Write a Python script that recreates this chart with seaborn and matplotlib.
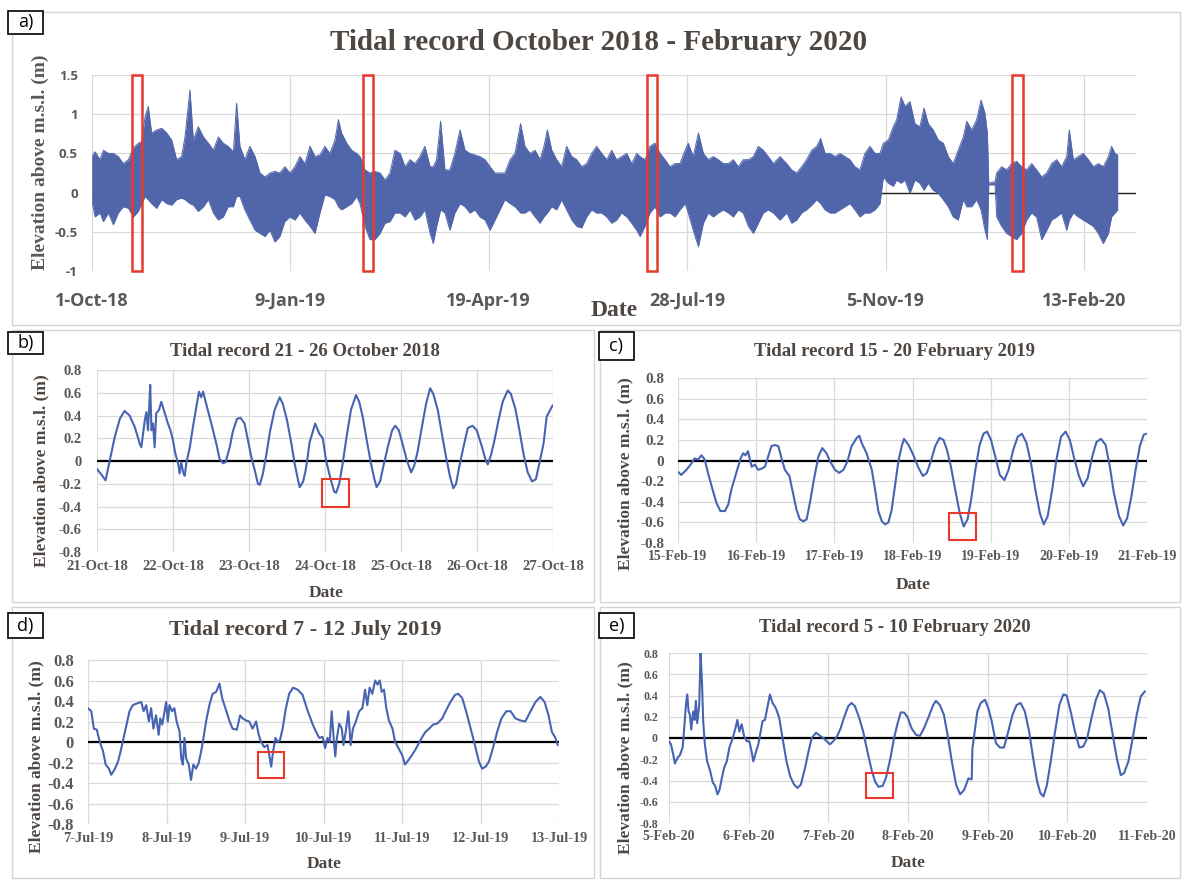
import matplotlib
matplotlib.use("Agg")
import matplotlib.pyplot as plt
import matplotlib.dates as mdates
from matplotlib.patches import Rectangle
import numpy as np
import pandas as pd
import seaborn as sns

# ---------------- DATA ----------------
# Panel a: envelope (day offset from 1-Oct-2018, high, low)
a_start = "2018-10-01"
a_day = [0, 1.7, 4.2, 5.9, 8.4, 10.9, 13.4, 15.9, 18.5, 21.0, 23.5, 25.2, 26.9, 28.5, 30.2, 32.7, 35.3, 37.8,
         40.3, 42.8, 45.3, 47.0, 49.5, 51.2, 53.7, 56.3, 58.8, 61.3, 63.8, 66.3, 68.8, 71.4, 73.0, 74.7, 77.2,
         79.7, 82.3, 84.8, 87.3, 89.8, 92.3, 94.8, 97.3, 99.9, 102.4, 104.9, 107.4, 110.0, 112.5, 115.0, 117.5,
         120.0, 122.6, 124.3, 125.9, 128.5, 131.0, 133.5, 135.2, 137.7, 140.2, 142.7, 145.3, 147.8, 150.3, 152.8,
         155.4, 157.9, 160.4, 162.9, 165.4, 167.9, 170.5, 172.1, 173.8, 175.8, 178.0, 180.5, 183.0, 185.6, 188.1,
         190.6, 193.1, 195.6, 198.2, 200.7, 203.2, 205.7, 208.2, 210.8, 213.3, 216.1, 218.3, 220.8, 223.4, 225.9,
         227.9, 229.6, 231.8, 234.3, 236.8, 239.3, 241.9, 244.4, 246.9, 249.4, 251.9, 254.4, 257.0, 259.5, 262.0,
         264.5, 267.0, 269.6, 272.1, 274.6, 276.3, 278.8, 281.3, 283.8, 286.4, 288.9, 291.4, 293.9, 296.4, 299.0,
         300.6, 303.1, 305.7, 308.2, 310.7, 313.2, 315.7, 318.3, 320.8, 323.3, 325.8, 328.3, 330.9, 333.4, 335.9,
         338.4, 340.9, 343.5, 346.8, 350.2, 352.7, 355.2, 357.7, 360.2, 362.8, 365.3, 367.3, 369.5, 372.0, 374.5,
         377.0, 379.5, 382.1, 384.6, 387.1, 389.6, 392.1, 394.7, 397.2, 398.9, 401.4, 403.9, 405.6, 407.8, 409.8,
         412.3, 414.8, 417.3, 419.4, 421.5, 424.0, 426.6, 429.1, 431.6, 434.1, 436.6, 439.2, 440.9, 443.4, 445.9,
         448.1, 450.1, 451.3, 452.0, 455.2, 456.0, 458.5, 461.0, 463.5, 466.0, 468.6, 471.1, 473.6, 476.1, 478.7,
         481.2, 483.7, 486.2, 488.7, 491.3, 492.6, 494.6, 497.1, 499.6, 502.2, 504.7, 507.2, 509.7, 512.3, 513.9,
         515.6, 517.0]
a_high = [0.46, 0.52, 0.42, 0.54, 0.50, 0.50, 0.46, 0.37, 0.42, 0.57, 0.63, 0.65, 0.97, 1.10, 0.76, 0.80, 0.82, 0.76,
          0.67, 0.42, 0.46, 0.71, 1.31, 0.67, 0.84, 0.71, 0.63, 0.54, 0.71, 0.63, 0.59, 0.52, 1.14, 0.59, 0.42,
          0.59, 0.46, 0.25, 0.20, 0.25, 0.27, 0.25, 0.33, 0.25, 0.33, 0.46, 0.37, 0.59, 0.46, 0.48, 0.59,
          0.50, 0.67, 0.93, 0.76, 0.63, 0.54, 0.50, 0.46, 0.29, 0.25, 0.27, 0.25, 0.16, 0.25, 0.54,
          0.50, 0.33, 0.42, 0.37, 0.46, 0.59, 0.33, 0.33, 0.42, 0.91, 0.29, 0.29, 0.50, 0.80, 0.54,
          0.50, 0.48, 0.46, 0.42, 0.33, 0.25, 0.25, 0.25, 0.42, 0.50, 0.88, 0.59, 0.50, 0.54, 0.42,
          0.59, 0.80, 0.54, 0.42, 0.33, 0.59, 0.46, 0.42, 0.33, 0.37, 0.50, 0.59, 0.50, 0.42, 0.54,
          0.42, 0.46, 0.50, 0.37, 0.50, 0.46, 0.42, 0.59, 0.63, 0.50, 0.42, 0.33, 0.37, 0.37, 0.54,
          0.63, 0.46, 0.76, 0.50, 0.42, 0.46, 0.42, 0.37, 0.37, 0.42, 0.33, 0.42, 0.42, 0.46, 0.59,
          0.54, 0.46, 0.37, 0.46, 0.37, 0.29, 0.25, 0.33, 0.42, 0.54, 0.59, 0.69, 0.50, 0.50, 0.46,
          0.50, 0.46, 0.42, 0.33, 0.29, 0.50, 0.59, 0.50, 0.50, 0.63, 0.67, 0.84, 0.93, 1.22, 1.10,
          1.16, 0.88, 0.84, 1.08, 0.88, 0.80, 0.67, 0.63, 0.46, 0.37, 0.54, 0.71, 0.91, 0.80, 0.93,
          1.18, 1.01, 0.76, 0.12, 0.14, 0.25, 0.33, 0.29, 0.37, 0.40, 0.33, 0.29, 0.37, 0.29, 0.20,
          0.25, 0.37, 0.42, 0.33, 0.46, 0.80, 0.42, 0.46, 0.50, 0.42, 0.33, 0.37, 0.33, 0.46, 0.59,
          0.50, 0.48]
a_low = [-0.09, -0.31, -0.26, -0.37, -0.26, -0.41, -0.26, -0.18, -0.20, -0.31, -0.24, -0.14, -0.05, -0.09, -0.14,
         -0.20, -0.09, -0.14, -0.16, -0.09, -0.07, -0.09, -0.14, -0.16, -0.24, -0.18, -0.09, -0.26, -0.35, -0.31,
         -0.18, -0.18, -0.05, -0.05, -0.22, -0.35, -0.48, -0.52, -0.56, -0.48, -0.63, -0.56, -0.37, -0.31, -0.35,
         -0.26, -0.35, -0.43, -0.52, -0.26, -0.03, -0.05, -0.09, -0.18, -0.22, -0.18, -0.14, -0.05, -0.14, -0.43,
         -0.60, -0.60, -0.52, -0.39, -0.37, -0.26, -0.26, -0.31, -0.22, -0.35, -0.31, -0.22, -0.52, -0.65, -0.43,
         -0.22, -0.26, -0.48, -0.26, -0.14, -0.18, -0.26, -0.22, -0.31, -0.35, -0.48, -0.35, -0.22, -0.09, -0.14,
         -0.18, -0.26, -0.26, -0.22, -0.31, -0.39, -0.31, -0.26, -0.18, -0.22, -0.09, -0.22, -0.35, -0.43, -0.45,
         -0.31, -0.22, -0.26, -0.26, -0.31, -0.39, -0.35, -0.26, -0.31, -0.39, -0.48, -0.56, -0.43, -0.26, -0.18,
         -0.31, -0.26, -0.26, -0.31, -0.22, -0.14, -0.26, -0.48, -0.69, -0.39, -0.26, -0.31, -0.26, -0.22, -0.26,
         -0.31, -0.22, -0.26, -0.43, -0.52, -0.39, -0.26, -0.22, -0.26, -0.35, -0.26, -0.39, -0.35, -0.26, -0.22,
         -0.16, -0.09, -0.14, -0.22, -0.26, -0.26, -0.22, -0.18, -0.14, -0.22, -0.31, -0.26, -0.26, -0.22, -0.14,
         0.20, 0.12, 0.08, 0.16, 0.12, 0.16, -0.01, 0.16, 0.12, 0.03, 0.12, 0.03, -0.01, -0.09, -0.18,
         -0.31, -0.35, -0.09, -0.18, -0.18, -0.09, -0.22, -0.48, -0.60, 0.10, 0.10, -0.31, -0.43, -0.52, -0.56,
         -0.60, -0.52, -0.35, -0.26, -0.31, -0.60, -0.48, -0.35, -0.31, -0.26, -0.48, -0.35, -0.26, -0.31, -0.35,
         -0.39, -0.43, -0.52, -0.65, -0.52, -0.31, -0.26, -0.22]
a_ticks = ["2018-10-01", "2019-01-09", "2019-04-19", "2019-07-28", "2019-11-05", "2020-02-13"]
a_yticks = [-1, -0.5, 0, 0.5, 1, 1.5]
a_boxes_day = [(20.3, 25.3), (136.7, 141.7), (279.8, 284.9), (463.7, 469.2)]

# Panel b: 21-26 Oct 2018 (hours from start, elevation m)
b_start = "2018-10-21"
b_hours = [0, 1.4, 2.7, 4.0, 5.6, 7.2, 8.7, 10.3, 11.9, 12.9, 13.5, 14.0, 15.1, 15.6, 16.1, 16.4, 16.8, 17.2,
           17.7, 18.2, 18.7, 19.6, 20.3, 21.4, 22.4, 23.2, 24.0, 24.7, 25.6, 26.1, 26.6, 27.2, 27.7, 28.2, 29.3,
           30.3, 31.4, 32.2, 32.9, 33.5, 34.5, 36.1, 37.7, 38.7, 39.8, 40.6, 41.9, 42.9, 44.2, 45.3, 46.6, 47.7,
           48.7, 49.8, 50.8, 51.4, 52.4, 53.5, 54.7, 56.1, 57.7, 58.7, 60.0, 61.4, 62.4, 63.5, 64.0, 65.1, 65.9,
           66.6, 67.1, 68.9, 70.2, 71.3, 72.3, 73.6, 74.9, 75.5, 76.5, 77.6, 78.8, 80.2, 81.8, 82.8, 83.9, 85.2,
           86.5, 87.6, 88.3, 89.4, 90.4, 91.8, 93.2, 94.2, 95.3, 96.5, 97.8, 99.2, 100.2, 101.3, 102.6, 103.9,
           105.2, 106.2, 107.6, 108.9, 110.2, 111.5, 112.5, 113.4, 114.4, 115.7, 117.1, 118.6, 119.9, 121.3,
           122.6, 123.4, 124.4, 125.5, 126.8, 128.1, 129.7, 130.7, 132.1, 133.4, 134.7, 136.0, 137.4, 138.6,
           139.7, 141.0, 142.0, 143.9]
b_vals = [-0.07, -0.12, -0.17, 0.00, 0.21, 0.37, 0.44, 0.40, 0.30, 0.21, 0.15, 0.12, 0.36, 0.43, 0.27, 0.42, 0.67,
          0.27, 0.33, 0.12, 0.42, 0.45, 0.52, 0.42, 0.33, 0.27, 0.18, 0.07, -0.02, -0.11, -0.01, -0.10, -0.13,
          -0.02, 0.12, 0.30, 0.48, 0.61, 0.56, 0.61, 0.50, 0.33, 0.15, 0.02, -0.02, -0.01, 0.12, 0.26, 0.37, 0.38,
          0.33, 0.18, 0.04, -0.08, -0.20, -0.21, -0.11, 0.06, 0.27, 0.45, 0.56, 0.50, 0.36, 0.15, -0.02, -0.17,
          -0.23, -0.18, -0.08, 0.05, 0.16, 0.33, 0.24, 0.20, 0.01, -0.14, -0.27, -0.28, -0.20, -0.02, 0.21, 0.45,
          0.58, 0.52, 0.39, 0.18, -0.02, -0.16, -0.23, -0.18, -0.05, 0.12, 0.27, 0.31, 0.27, 0.15, 0.01, -0.10,
          -0.04, 0.09, 0.30, 0.50, 0.64, 0.59, 0.45, 0.24, 0.04, -0.14, -0.24, -0.20, -0.05, 0.12, 0.29, 0.31,
          0.27, 0.15, 0.02, -0.03, 0.05, 0.18, 0.36, 0.52, 0.62, 0.59, 0.46, 0.27, 0.06, -0.10, -0.18, -0.16,
          -0.02, 0.15, 0.39, 0.49]
b_box = (71.0, 79.6, -0.40, -0.16)

# Panel c: 15-20 Feb 2019
c_start = "2019-02-15"
c_hours = [0, 1.0, 2.6, 4.1, 5.1, 6.2, 7.2, 8.2, 9.2, 10.6, 11.8, 13.0, 14.4, 15.4, 16.4, 17.9, 19.2, 20.0, 20.7,
           21.5, 22.6, 23.6, 24.6, 25.6, 26.7, 27.7, 28.7, 29.7, 30.8, 31.8, 32.8, 34.2, 35.4, 36.4, 37.4, 38.5,
           39.5, 40.5, 41.7, 43.1, 44.3, 45.6, 46.7, 48.2, 49.5, 50.8, 52.0, 53.3, 54.9, 55.7, 56.4, 57.9, 59.5,
           60.5, 61.5, 62.6, 63.6, 64.6, 65.6, 66.6, 67.7, 68.7, 69.4, 70.8, 72.3, 73.8, 75.2, 76.4, 77.6, 79.0,
           80.3, 81.5, 82.6, 83.8, 85.1, 86.5, 87.7, 88.9, 90.0, 91.3, 92.6, 93.8, 94.9, 96.1, 97.4, 98.8, 100.2,
           101.5, 102.9, 104.3, 105.6, 107.0, 108.4, 109.7, 111.1, 112.3, 113.5, 114.9, 116.2, 117.6, 119.0,
           120.3, 121.5, 123.1, 124.4, 125.8, 127.2, 128.5, 129.9, 131.3, 132.6, 133.8, 135.4, 136.7, 137.9,
           139.2, 140.5, 141.8, 143.0, 143.9]
c_vals = [-0.11, -0.14, -0.09, -0.03, 0.02, 0.01, 0.05, 0.01, -0.12, -0.28, -0.41, -0.49, -0.49, -0.43, -0.28, -0.12,
          0.02, 0.07, 0.05, 0.09, -0.06, -0.04, -0.09, -0.08, -0.06, 0.04, 0.14, 0.15, 0.14, 0.02, -0.09, -0.15,
          -0.33, -0.48, -0.57, -0.59, -0.57, -0.41, -0.19, 0.04, 0.12, 0.07, -0.01, -0.09, -0.12, -0.09, -0.01,
          0.14, 0.22, 0.24, 0.17, 0.07, -0.09, -0.28, -0.49, -0.59, -0.62, -0.60, -0.48, -0.25, 0.00, 0.14, 0.21,
          0.15, 0.05, -0.07, -0.15, -0.12, -0.01, 0.14, 0.22, 0.20, 0.10, -0.06, -0.28, -0.51, -0.64, -0.57, -0.38,
          -0.09, 0.15, 0.26, 0.28, 0.20, 0.04, -0.14, -0.19, -0.09, 0.10, 0.23, 0.26, 0.17, -0.03, -0.28, -0.51,
          -0.62, -0.54, -0.28, 0.01, 0.23, 0.28, 0.20, 0.04, -0.15, -0.25, -0.17, 0.04, 0.18, 0.21, 0.15, -0.06,
          -0.31, -0.54, -0.63, -0.56, -0.35, -0.09, 0.14, 0.25, 0.26]
c_box = (83.2, 91.4, -0.77, -0.51)

# Panel d: 7-12 July 2019
d_start = "2019-07-07"
d_hours = [0, 1.0, 1.8, 2.7, 3.6, 4.6, 5.4, 6.4, 7.1, 8.1, 9.2, 10.2, 11.5, 12.7, 13.7, 15.3, 16.3, 17.0, 17.8,
           18.6, 19.3, 20.0, 20.8, 21.6, 22.1, 22.7, 23.4, 23.9, 24.4, 24.9, 25.7, 26.4, 27.1, 28.0, 28.5, 29.0,
           29.5, 30.0, 30.8, 31.5, 32.2, 33.0, 33.8, 34.6, 35.3, 36.1, 37.1, 38.1, 39.2, 40.2, 41.0, 42.0, 43.2,
           44.2, 45.5, 46.5, 47.3, 48.3, 49.3, 50.3, 51.4, 52.2, 52.9, 53.9, 54.9, 55.6, 56.0, 56.6, 57.3, 58.0,
           58.7, 59.5, 60.5, 61.5, 62.7, 64.1, 65.6, 67.1, 68.6, 69.7, 70.7, 71.7, 72.5, 73.2, 73.9, 74.5, 75.1,
           75.6, 76.1, 76.8, 77.6, 78.1, 78.8, 79.6, 80.3, 81.0, 81.9, 82.9, 83.9, 84.7, 85.4, 86.1, 86.9, 87.8,
           88.5, 89.2, 89.8, 90.5, 91.2, 92.0, 93.1, 93.9, 94.9, 96.1, 96.9, 97.9, 99.0, 100.0, 101.2, 102.2,
           103.2, 104.3, 105.5, 106.8, 108.3, 109.5, 110.8, 112.2, 113.2, 114.4, 115.6, 117.0, 118.3, 119.5,
           120.5, 121.6, 122.6, 123.8, 125.1, 126.4, 127.9, 129.2, 130.7, 132.2, 133.7, 135.3, 136.8, 138.3,
           139.6, 140.8, 141.8, 142.9, 143.6]
d_vals = [0.33, 0.30, 0.13, 0.12, 0.00, -0.09, -0.22, -0.26, -0.32, -0.27, -0.19, -0.06, 0.13, 0.30, 0.36, 0.38,
          0.39, 0.30, 0.36, 0.20, 0.33, 0.13, 0.26, 0.07, 0.23, 0.17, 0.30, 0.39, 0.20, 0.36, 0.30, 0.33, 0.20,
          0.10, -0.16, -0.22, 0.04, -0.16, -0.22, -0.37, -0.22, -0.26, -0.21, -0.09, 0.04, 0.20, 0.36, 0.47, 0.49,
          0.57, 0.43, 0.33, 0.21, 0.13, 0.12, 0.26, 0.23, 0.21, 0.20, 0.13, 0.20, 0.07, 0.00, -0.05, -0.03, -0.16,
          -0.24, -0.09, 0.04, 0.00, 0.02, 0.13, 0.33, 0.47, 0.53, 0.51, 0.46, 0.31, 0.18, 0.10, 0.04, 0.05, -0.06,
          0.04, 0.00, 0.30, 0.04, -0.14, 0.04, 0.18, 0.13, -0.03, 0.10, 0.30, -0.03, 0.13, 0.20, 0.30, 0.33, 0.51,
          0.36, 0.53, 0.47, 0.60, 0.56, 0.60, 0.49, 0.51, 0.33, 0.21, 0.13, 0.00, -0.06, -0.13, -0.22, -0.18,
          -0.13, -0.08, -0.01, 0.05, 0.10, 0.13, 0.17, 0.18, 0.23, 0.31, 0.39, 0.46, 0.47, 0.43, 0.30, 0.13,
          -0.03, -0.19, -0.26, -0.24, -0.19, -0.06, 0.10, 0.23, 0.30, 0.30, 0.23, 0.21, 0.20, 0.30, 0.39, 0.44,
          0.39, 0.26, 0.10, 0.04, -0.03]
d_box = (52.0, 60.0, -0.35, -0.10)

# Panel e: 5-10 Feb 2020
e_start = "2020-02-05"
e_hours = [0, 0.6, 1.3, 1.8, 2.5, 3.3, 4.1, 4.5, 5.1, 5.5, 5.9, 6.3, 6.7, 7.3, 7.7, 8.1, 8.5, 9.1, 9.5, 9.9,
           10.3, 10.8, 11.5, 12.4, 13.2, 13.9, 14.6, 15.2, 15.9, 16.6, 17.4, 18.2, 19.2, 20.0, 20.6, 21.2, 21.9,
           22.6, 23.4, 24.2, 24.9, 25.4, 26.2, 26.9, 27.6, 28.2, 28.9, 29.6, 30.4, 31.2, 32.2, 33.2, 34.2, 35.4,
           36.5, 37.7, 38.7, 39.7, 41.0, 42.0, 43.0, 44.3, 45.5, 46.5, 47.5, 48.5, 49.5, 50.7, 51.7, 52.7, 54.0,
           55.0, 56.0, 57.3, 58.5, 59.8, 61.1, 62.1, 63.1, 64.4, 65.4, 66.7, 67.8, 68.8, 69.8, 70.8, 71.8, 73.1,
           74.4, 75.6, 76.8, 78.1, 79.6, 80.4, 81.6, 82.8, 84.1, 85.2, 86.5, 87.7, 88.9, 90.2, 91.2, 91.4, 92.2,
           92.9, 93.9, 95.2, 96.2, 97.2, 98.5, 99.7, 100.9, 102.2, 103.5, 104.7, 105.9, 107.2, 108.5, 109.7,
           110.9, 111.9, 112.8, 113.8, 115.0, 116.3, 117.6, 118.8, 119.8, 121.0, 122.3, 123.6, 124.8, 126.0,
           127.3, 128.6, 129.8, 131.0, 132.3, 133.7, 134.9, 136.1, 137.1, 138.4, 139.7, 140.9, 142.1, 143.4]
e_vals = [-0.03, -0.06, -0.16, -0.24, -0.19, -0.16, -0.09, 0.06, 0.31, 0.41, 0.25, 0.22, 0.08, 0.25, 0.17, 0.35,
          0.14, 0.31, 0.80, 0.56, 0.16, -0.06, -0.22, -0.31, -0.42, -0.45, -0.53, -0.49, -0.38, -0.28, -0.22,
          -0.09, 0.00, 0.09, 0.17, 0.06, 0.13, 0.02, -0.03, -0.03, -0.13, -0.22, -0.13, -0.06, 0.06, 0.16, 0.17,
          0.28, 0.41, 0.33, 0.28, 0.19, 0.00, -0.22, -0.36, -0.44, -0.47, -0.44, -0.28, -0.13, 0.00, 0.05, 0.02,
          0.00, -0.03, -0.06, -0.03, 0.02, 0.09, 0.19, 0.30, 0.33, 0.30, 0.19, 0.06, -0.13, -0.31, -0.41, -0.46,
          -0.45, -0.37, -0.19, 0.00, 0.13, 0.24, 0.24, 0.20, 0.09, 0.03, 0.02, 0.09, 0.19, 0.31, 0.35, 0.31, 0.22,
          0.00, -0.22, -0.44, -0.53, -0.49, -0.38, -0.39, -0.10, 0.09, 0.25, 0.33, 0.36, 0.28, 0.16, -0.05, -0.09,
          -0.09, 0.06, 0.22, 0.31, 0.33, 0.25, 0.06, -0.19, -0.41, -0.52, -0.55, -0.45, -0.22, 0.06, 0.31, 0.41,
          0.40, 0.25, 0.06, -0.09, -0.08, 0.00, 0.19, 0.36, 0.45, 0.42, 0.28, 0.03, -0.19, -0.35, -0.33, -0.22,
          0.00, 0.22, 0.39, 0.44]
e_box = (59.3, 67.5, -0.565, -0.33)

small_yticks = [-0.8, -0.6, -0.4, -0.2, 0, 0.2, 0.4, 0.6, 0.8]

# ---------------- STYLE ----------------
sns.set_style("white")
plt.rcParams["font.family"] = ["Liberation Serif", "DejaVu Serif"]

W, H = 1182, 880
BAND = "#5165ab"
LINE = "#4764b3"
RED = "#e8392c"
GRID = "#d9d9d9"
TICK = "#595959"
TITLE = "#4e4641"
FRAME = "#d4d4d4"

fig = plt.figure(figsize=(W / 100, H / 100), dpi=100)
fig.patch.set_facecolor("white")


def axes_px(x0, y0, x1, y1):
    return fig.add_axes([x0 / W, 1 - y1 / H, (x1 - x0) / W, (y1 - y0) / H])


def fig_rect(x0, y0, x1, y1, **kw):
    fig.add_artist(Rectangle((x0 / W, 1 - y1 / H), (x1 - x0) / W, (y1 - y0) / H,
                             transform=fig.transFigure, **kw))


def fig_text(x, y, s, **kw):
    fig.text(x / W, 1 - y / H, s, **kw)


def fmt_date(d):
    return f"{d.day}-{d.strftime('%b-%y')}"


def fmt_num(v):
    if abs(v) < 1e-9:
        return "0"
    return f"{v:g}"


def style_axes(ax):
    for s in ax.spines.values():
        s.set_visible(False)
    ax.grid(True, color=GRID, lw=0.9)
    ax.set_axisbelow(True)
    ax.tick_params(length=0)
    ax.set_xlabel("")
    ax.set_ylabel("")


# panel frames
for (x0, y0, x1, y1) in [(12, 12, 1180, 325), (12, 330, 594, 602), (600, 330, 1180, 602),
                         (12, 607, 594, 878), (600, 607, 1180, 878)]:
    fig_rect(x0, y0, x1, y1, fill=False, edgecolor=FRAME, lw=1.0)

# ---------------- PANEL A ----------------
ax = axes_px(91.7, 75, 1136, 271)
t0 = pd.Timestamp(a_start)
a_dates = t0 + pd.to_timedelta(a_day, unit="D")
ax.axhline(0, color="#222222", lw=1.0, zorder=1)
ax.fill_between(a_dates, a_low, a_high, color=BAND, lw=0, zorder=2)
sns.lineplot(x=a_dates, y=a_high, ax=ax, color=BAND, lw=0.7, zorder=2)
sns.lineplot(x=a_dates, y=a_low, ax=ax, color=BAND, lw=0.7, zorder=2)
ax.set_xlim(t0, t0 + pd.Timedelta(days=526.2))
ax.set_ylim(-1, 1.5)
tk = pd.to_datetime(a_ticks)
ax.set_xticks(tk, [fmt_date(d) for d in tk], fontsize=13, fontweight="bold",
              family="Open Sans", color=TICK)
ax.set_yticks(a_yticks, [fmt_num(v) for v in a_yticks], fontsize=9.5, fontweight="bold",
              family="Open Sans", color=TICK)
style_axes(ax)
ax.tick_params(axis="x", pad=15)
ax.tick_params(axis="y", pad=10)
for d0, d1 in a_boxes_day:
    ax.add_patch(Rectangle((mdates.date2num(t0 + pd.Timedelta(days=d0)), -1), d1 - d0, 2.5,
                           fill=False, edgecolor=RED, lw=1.8, zorder=5, clip_on=False))

fig_text(599, 42, "Tidal record October 2018 - February 2020", fontsize=21, fontweight="bold",
         color=TITLE, ha="center", va="center")
fig_text(40, 162, "Elevation above m.s.l. (m)", fontsize=14, fontweight="bold", color=TICK,
         rotation=90, ha="center", va="center")
fig_text(614, 311, "Date", fontsize=17, fontweight="bold", color=TITLE, ha="center", va="center")


# ---------------- SMALL PANELS ----------------
def small_panel(box, start, hours, vals, red, title, title_xy, title_size, ylab_xy, date_xy,
                ytick_size, xtick_size, ypad, xpad):
    x0, y0, x1, y1 = box
    ax = axes_px(x0, y0, x1, y1)
    t0 = pd.Timestamp(start)
    dates = t0 + pd.to_timedelta(hours, unit="h")
    ax.axhline(0, color="black", lw=1.6, zorder=2)
    sns.lineplot(x=dates, y=vals, ax=ax, color=LINE, lw=1.5, zorder=3, sort=False)
    ax.set_xlim(t0, t0 + pd.Timedelta(days=6))
    ax.set_ylim(-0.8, 0.8)
    ticks = [t0 + pd.Timedelta(days=i) for i in range(7)]
    ax.set_xticks(ticks, [fmt_date(d) for d in ticks], fontsize=xtick_size, fontweight="bold", color=TICK)
    ax.set_yticks(small_yticks, [fmt_num(v) for v in small_yticks], fontsize=ytick_size,
                  fontweight="bold", color=TICK)
    style_axes(ax)
    ax.tick_params(axis="x", pad=xpad)
    ax.tick_params(axis="y", pad=ypad)
    h0, h1, v0, v1 = red
    ax.add_patch(Rectangle((mdates.date2num(t0 + pd.Timedelta(hours=h0)), v0), (h1 - h0) / 24, v1 - v0,
                           fill=False, edgecolor=RED, lw=1.5, zorder=5))
    fig_text(*title_xy, title, fontsize=title_size, fontweight="bold", color=TITLE, ha="center", va="center")
    fig_text(*ylab_xy, "Elevation above m.s.l. (m)", fontsize=12.5, fontweight="bold", color=TITLE,
             rotation=90, ha="center", va="center")
    fig_text(*date_xy, "Date", fontsize=12.5, fontweight="bold", color=TITLE, ha="center", va="center")


small_panel((97, 370, 553, 552), b_start, b_hours, b_vals, b_box, "Tidal record 21 - 26 October 2018",
            (305, 351), 13.5, (41, 471), (326, 593), 10.5, 10.5, 11, 6)
small_panel((678, 378, 1147, 543), c_start, c_hours, c_vals, c_box, "Tidal record 15 - 20 February 2019",
            (895, 351), 13.5, (625, 474), (913, 585), 11, 10, 10, 5)
small_panel((88, 660, 559, 824), d_start, d_hours, d_vals, d_box, "Tidal record 7 - 12 July 2019",
            (305, 630), 16, (36, 757), (324, 864), 12, 10.3, 10, 6)
small_panel((669, 653, 1147, 823), e_start, e_hours, e_vals, e_box, "Tidal record 5 - 10 February 2020",
            (895, 628), 13.5, (625, 758), (908, 863), 8.6, 10, 8, 5)

# ---------------- LABEL BOXES ----------------
for lab, (x0, y0, x1, y1) in [("a)", (8, 11, 43, 34)), ("b)", (8, 332, 43, 354)), ("c)", (599, 332, 634, 360)),
                              ("d)", (8, 613, 43, 638)), ("e)", (599, 613, 634, 638))]:
    fig_rect(x0, y0, x1, y1, facecolor="white", edgecolor="black", lw=1.2)
    fig_text((x0 + x1) / 2, (y0 + y1) / 2, lab, fontsize=13, family="Open Sans", color="black",
             ha="center", va="center")

fig.savefig("out.png", dpi=100, facecolor="white")
